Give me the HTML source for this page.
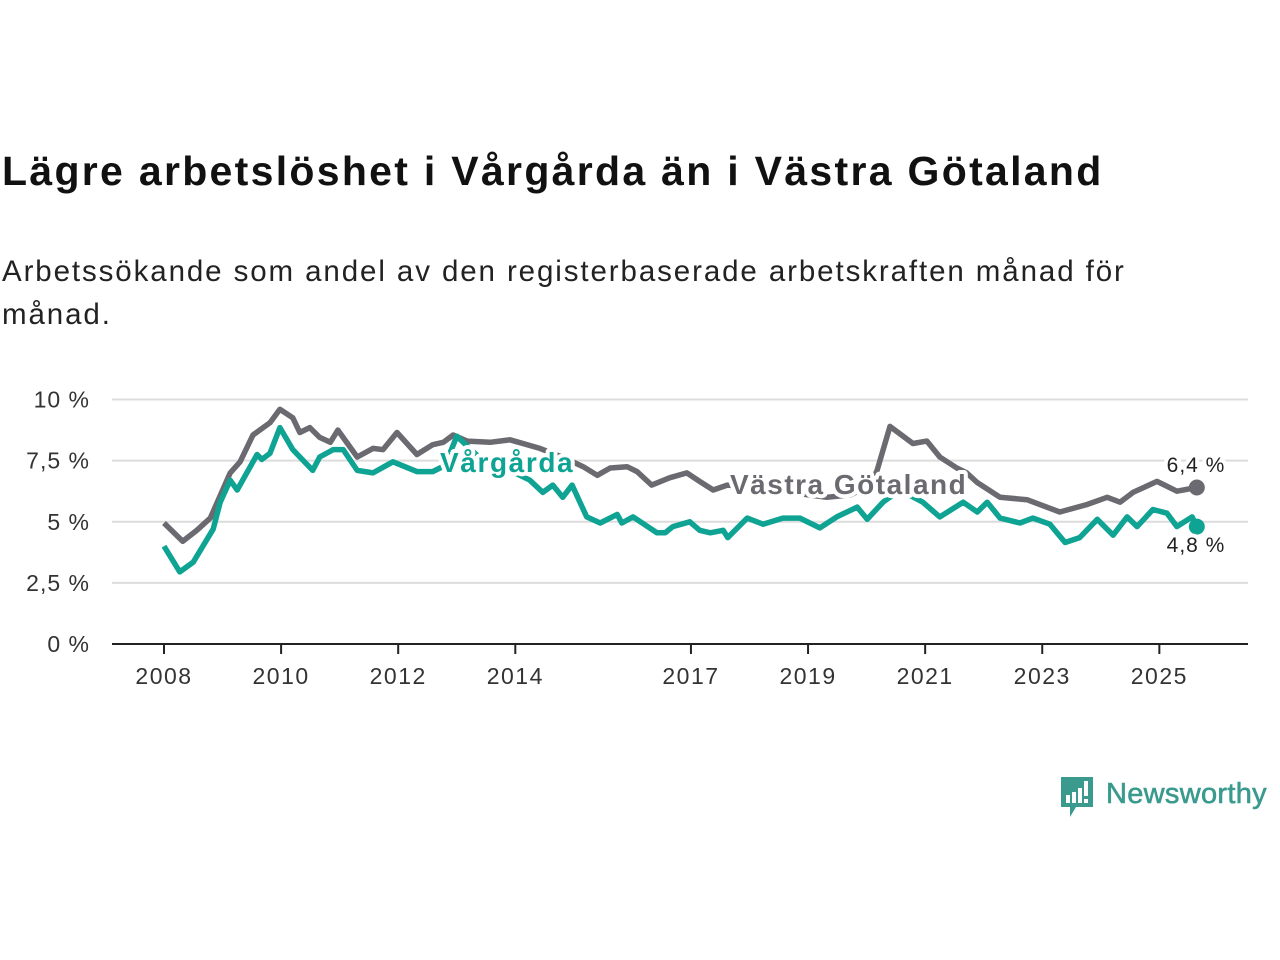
<!DOCTYPE html>
<html><head><meta charset="utf-8"><style>
body{margin:0;background:#fff;width:1280px;height:960px;overflow:hidden;font-family:"Liberation Sans",sans-serif;}
#title{position:absolute;left:2px;top:148px;font-size:41px;font-weight:bold;color:#111;margin:0;letter-spacing:2.3px;white-space:nowrap}
#sub{position:absolute;left:2px;top:250px;font-size:29.5px;color:#222;line-height:43px;width:1190px;margin:0;letter-spacing:1.9px}
svg{position:absolute;left:0;top:0}
</style></head><body>
<h1 id="title">Lägre arbetslöshet i Vårgårda än i Västra Götaland</h1>
<p id="sub">Arbetssökande som andel av den registerbaserade arbetskraften månad för månad.</p>
<svg id="chart" width="1280" height="960"></svg>
<script>
const yTicks=[0,2.5,5,7.5,10];
const yTickLabels=["0 %","2,5 %","5 %","7,5 %","10 %"];
const xTicks=[2008,2010,2012,2014,2017,2019,2021,2023,2025];
const vgDates=[2008.00,2008.32,2008.56,2008.79,2009.13,2009.30,2009.52,2009.81,2009.98,2010.20,2010.32,2010.49,2010.66,2010.84,2010.97,2011.30,2011.57,2011.74,2011.98,2012.32,2012.59,2012.77,2012.94,2013.18,2013.57,2013.91,2014.42,2014.85,2015.16,2015.40,2015.62,2015.91,2016.08,2016.33,2016.64,2016.93,2017.15,2017.38,2017.62,2018.18,2018.69,2019.32,2019.72,2020.06,2020.18,2020.40,2020.79,2021.03,2021.25,2021.54,2021.71,2021.89,2022.28,2022.74,2023.30,2023.76,2024.11,2024.33,2024.55,2024.96,2025.30,2025.64];
const vgValues=[4.95,4.2,4.65,5.15,7.0,7.45,8.55,9.05,9.6,9.25,8.65,8.85,8.45,8.25,8.75,7.65,8.0,7.95,8.65,7.75,8.15,8.25,8.55,8.3,8.25,8.35,8.0,7.6,7.25,6.9,7.2,7.25,7.05,6.5,6.8,7.0,6.65,6.3,6.5,6.4,6.2,6.0,6.1,6.5,7.1,8.9,8.2,8.3,7.65,7.2,7.0,6.6,6.0,5.9,5.4,5.7,6.0,5.8,6.2,6.65,6.25,6.4];
const vaDates=[2008.00,2008.27,2008.50,2008.84,2008.96,2009.13,2009.25,2009.59,2009.67,2009.81,2009.98,2010.20,2010.54,2010.66,2010.89,2011.06,2011.30,2011.57,2011.91,2012.32,2012.59,2012.80,2013.00,2013.40,2013.91,2014.25,2014.47,2014.64,2014.81,2014.97,2015.22,2015.45,2015.74,2015.82,2016.01,2016.42,2016.56,2016.69,2016.98,2017.15,2017.33,2017.55,2017.63,2017.96,2018.23,2018.57,2018.86,2019.20,2019.49,2019.84,2020.01,2020.28,2020.57,2020.96,2021.25,2021.65,2021.89,2022.06,2022.28,2022.62,2022.84,2023.13,2023.39,2023.64,2023.94,2024.21,2024.45,2024.62,2024.89,2025.13,2025.30,2025.56,2025.64];
const vaValues=[4.0,2.95,3.35,4.7,5.8,6.7,6.3,7.75,7.55,7.8,8.85,7.95,7.1,7.65,7.95,7.95,7.1,7.0,7.45,7.05,7.05,7.3,8.5,7.6,7.1,6.7,6.2,6.5,6.0,6.5,5.2,4.95,5.3,4.95,5.2,4.55,4.55,4.8,5.0,4.65,4.55,4.65,4.35,5.15,4.9,5.15,5.15,4.75,5.2,5.6,5.1,5.8,6.3,5.8,5.2,5.8,5.4,5.8,5.15,4.95,5.15,4.9,4.15,4.35,5.1,4.45,5.2,4.8,5.5,5.35,4.8,5.2,4.8];

const NS="http://www.w3.org/2000/svg";
const svg=document.getElementById('chart');
const X=y=>164+(y-2008)*58.55;
const Y=v=>644-v*24.45;
function mk(t,a,p){const e=document.createElementNS(NS,t);for(const k in a)e.setAttribute(k,a[k]);(p||svg).appendChild(e);return e;}
yTicks.forEach((v,i)=>{
  if(v>0){const g=mk('line',{x1:112,x2:1248,y1:Y(v),y2:Y(v),stroke:'#dcdcdc','stroke-width':2});
  
  }
  const t=mk('text',{x:90,y:Y(v)+8,'text-anchor':'end','font-size':23,fill:'#333','letter-spacing':1});
  t.textContent=yTickLabels[i];
  
  
});
const ax=mk('line',{x1:112,x2:1248,y1:644,y2:644,stroke:'#222','stroke-width':2});


xTicks.forEach(yr=>{
  const tk=mk('line',{x1:X(yr),x2:X(yr),y1:644,y2:654,stroke:'#222','stroke-width':2});
  
  
  const t=mk('text',{x:X(yr),y:684,'text-anchor':'middle','font-size':23,fill:'#333','letter-spacing':1.5});
  t.textContent=yr;
  
  
});
function line(d,v,c,name){
  const p=mk('path',{d:d.map((x,i)=>(i?'L':'M')+X(x).toFixed(1)+','+Y(v[i]).toFixed(1)).join(''),fill:'none',stroke:c,'stroke-width':5.5,'stroke-linejoin':'round'});
  
  
  const c2=mk('circle',{cx:X(d[d.length-1]),cy:Y(v[v.length-1]),r:8,fill:c});
  
  
}
line(vgDates,vgValues,'#6b6a70','vastra-gotaland-line');
line(vaDates,vaValues,'#0ea393','vargarda-line');
function lab(txt,x,y,c,sz,w,name,anchor,ls){
  const t=mk('text',{x:x,y:y,fill:c,'font-size':sz,'font-weight':w,'text-anchor':anchor||'start',stroke:'#fff','stroke-width':8,'paint-order':'stroke','stroke-linejoin':'round','letter-spacing':ls||0});
  t.textContent=txt;
  
  
}
lab('Vårgårda',440,472,'#0ea393',28,'bold','vargarda-label','start',1.6);
lab('Västra Götaland',730,494,'#6b6a70',28,'bold','vastra-gotaland-label','start',1.5);
lab('6,4 %',1196,472,'#222',21,'normal','vg-end-value','middle',1);
lab('4,8 %',1196,552,'#222',21,'normal','vargarda-end-value','middle',1);
</script>
<div style="position:absolute;left:1059px;top:775px;height:44px;display:flex;align-items:center">
  <svg width="36" height="44" style="position:static">
    <path d="M2 2h32v30H17l-6 10v-10H2z" fill="#3a9a8e"/>
    <rect x="7" y="20" width="4" height="8" fill="#fff"/><rect x="13" y="17" width="4" height="11" fill="#fff"/>
    <rect x="19" y="13" width="4" height="15" fill="#fff"/><rect x="25" y="6" width="4" height="15" fill="#fff"/><rect x="25" y="24" width="4" height="4" fill="#fff"/>
  </svg>
  <span style="font-size:29px;color:#3a9a8e;margin-left:11px;margin-top:-6px;letter-spacing:0.3px;-webkit-text-stroke:0.6px #3a9a8e">Newsworthy</span>
</div>
</body></html>
